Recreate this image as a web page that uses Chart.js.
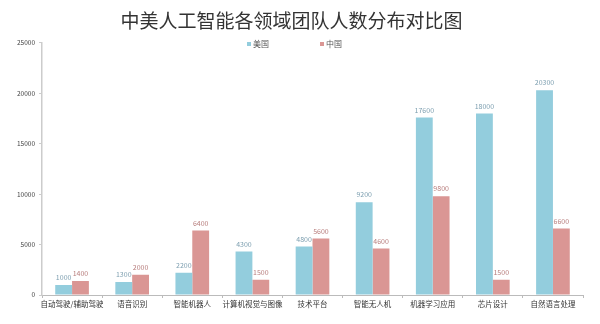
<!DOCTYPE html>
<html>
<head>
<meta charset="utf-8">
<script src="https://cdn.jsdelivr.net/npm/chart.js@4/dist/chart.umd.min.js"></script>
<style>
  html, body { margin: 0; padding: 0; background: #fff; }
  #wrap { width: 600px; height: 324px; }
</style>
</head>
<body>
<div id="wrap"><canvas id="c" width="600" height="324"></canvas></div>
<script>
const categories = ['自动驾驶/辅助驾驶', '语音识别', '智能机器人', '计算机视觉与图像', '技术平台', '智能无人机', '机器学习应用', '芯片设计', '自然语言处理'];
const usValues = [1000, 1300, 2200, 4300, 4800, 9200, 17600, 18000, 20300];
const cnValues = [1400, 2000, 6400, 1500, 5600, 4600, 9800, 1500, 6600];
const yTicks = [0, 5000, 10000, 15000, 20000, 25000];

const FONT = '"Noto Sans CJK SC", "Noto Sans", sans-serif';

// value labels above each bar
const valueLabels = {
  id: 'valueLabels',
  afterDatasetsDraw(chart) {
    const ctx = chart.ctx;
    ctx.save();
    ctx.font = '7px ' + FONT;
    ctx.textAlign = 'center';
    ctx.textBaseline = 'bottom';
    chart.data.datasets.forEach((ds, i) => {
      const meta = chart.getDatasetMeta(i);
      ctx.fillStyle = ds.labelColor;
      meta.data.forEach((bar, j) => {
        ctx.fillText(String(ds.data[j]), bar.x, bar.y - 4);
      });
    });
    ctx.restore();
  }
};

// small legend drawn over the top of the plot
const topLegend = {
  id: 'topLegend',
  afterDraw(chart) {
    const ctx = chart.ctx;
    const xs = [247, 320];
    const y = 44;
    ctx.save();
    ctx.font = '8px ' + FONT;
    ctx.textBaseline = 'middle';
    ctx.textAlign = 'left';
    chart.data.datasets.forEach((ds, i) => {
      ctx.fillStyle = ds.backgroundColor;
      ctx.fillRect(xs[i], y - 2, 4, 4);
      ctx.fillStyle = '#555';
      ctx.fillText(ds.label, xs[i] + 6, y);
    });
    ctx.restore();
  }
};

new Chart(document.getElementById('c'), {
  type: 'bar',
  data: {
    labels: categories,
    datasets: [
      { label: '美国', data: usValues, backgroundColor: '#93CDDD', labelColor: '#7d9fb0' },
      { label: '中国', data: cnValues, backgroundColor: '#DA9694', labelColor: '#b77d7c' }
    ]
  },
  plugins: [valueLabels, topLegend],
  options: {
    responsive: false,
    animation: false,
    barPercentage: 1,
    categoryPercentage: 0.56,
    layout: { padding: { left: 0, right: 17, top: 0, bottom: 0 } },
    plugins: {
      legend: { display: false },
      tooltip: { enabled: false },
      title: {
        display: true,
        text: '中美人工智能各领域团队人数分布对比图',
        color: '#333',
        font: { family: FONT, size: 19, weight: 'normal' },
        padding: { top: 9, bottom: 11 }
      }
    },
    scales: {
      x: {
        grid: { display: true, drawOnChartArea: false, drawTicks: true, tickLength: 3, color: '#bbb', offset: true },
        border: { display: true, color: '#bbb', width: 1 },
        ticks: { color: '#333', font: { family: FONT, size: 7.5 }, padding: 2, maxRotation: 0, autoSkip: false },
        afterFit(s) { s.height = 29; }
      },
      y: {
        min: 0,
        max: 25000,
        afterBuildTicks(s) { s.ticks = yTicks.map(v => ({ value: v })); },
        grid: { display: true, drawOnChartArea: false, drawTicks: true, tickLength: 3, color: '#ccc' },
        border: { display: true, color: '#ccc', width: 1.5 },
        ticks: { color: '#444', font: { family: FONT, size: 6.5 }, padding: 4, callback: v => String(v) },
        afterFit(s) { s.width = 42; }
      }
    }
  }
});
</script>
</body>
</html>
